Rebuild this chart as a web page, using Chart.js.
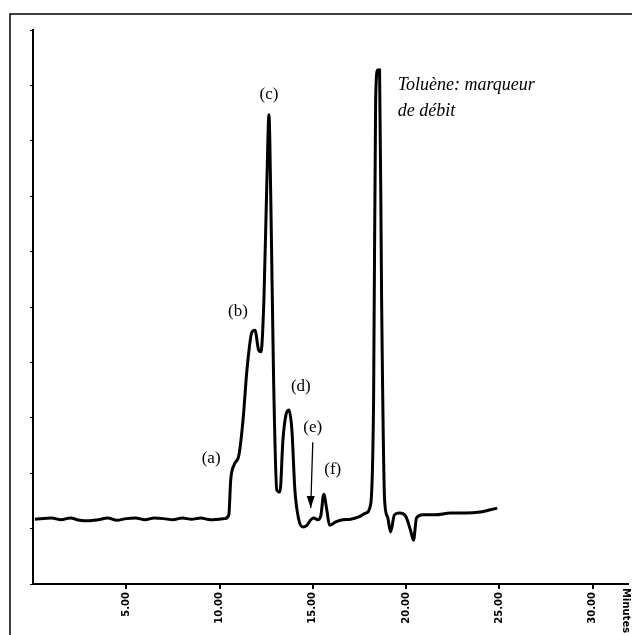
<!DOCTYPE html>
<html>
<head>
<meta charset="utf-8">
<script src="https://cdn.jsdelivr.net/npm/chart.js@4"></script>
<style>
  body { margin: 0; background: #fff; }
  .container { width: 632px; height: 635px; }
</style>
</head>
<body>
<div class="container"><canvas id="myChart"></canvas></div>
<script>
// retention time (minutes) and detector signal (arbitrary units, 0-100)
const times = [0.1, 1, 1.5, 2, 2.5, 3, 3.5, 4, 4.5, 5, 5.5, 6, 6.5, 7, 7.5, 8, 8.5, 9, 9.5, 10, 10.3,
  10.5, 10.6, 10.78, 11.04, 11.26, 11.47, 11.74, 11.9, 12.1, 12.22, 12.38, 12.54, 12.65, 12.75, 12.9,
  13.07, 13.24, 13.4, 13.56, 13.72, 13.88, 14.04, 14.25, 14.47, 14.68, 14.9, 15.05, 15.27, 15.43, 15.59,
  15.75, 15.9, 16.23, 16.6, 17.03, 17.46, 17.83, 18.1, 18.26, 18.37, 18.48, 18.58, 18.69, 18.85, 19.01,
  19.17, 19.38, 19.65, 19.97, 20.24, 20.4, 20.56, 20.88, 21.57, 22.37, 23.18, 23.98, 24.52, 24.89];
const signal = [11.7, 11.9, 11.6, 11.9, 11.5, 11.4, 11.6, 11.9, 11.5, 11.8, 11.9, 11.6, 11.9, 11.8, 11.6, 11.9, 11.7, 11.9, 11.6, 11.7, 11.8,
  12.5, 18.8, 21.5, 23.3, 29.6, 38.6, 45.5, 45.8, 42.2, 41.9, 51.3, 72.9, 84.7, 69.3, 36.8,
  17.0, 16.6, 26.0, 30.5, 31.4, 27.8, 17.0, 11.6, 10.3, 10.6, 11.6, 11.9, 11.6, 12.3, 16.2,
  13.4, 10.6, 11.2, 11.6, 11.7, 12.1, 12.8, 14.3, 33.2, 87.4, 92.8, 92.8, 51.3, 15.2, 12.1,
  9.4, 12.5, 12.8, 12.3, 9.7, 7.9, 11.9, 12.5, 12.5, 12.8, 12.8, 13.0, 13.4, 13.7];

// peak labels
const peakNames = ['(a)', '(b)', '(c)', '(d)', '(e)', '(f)'];
const peakLabelT = [9.55, 10.99, 12.65, 14.36, 15.0, 16.07];
const peakLabelV = [22.7, 49.1, 88.4, 35.6, 28.2, 20.6];

const markerLines = ['Toluène: marqueur', 'de débit'];
const xTicks = [5, 10, 15, 20, 25, 30];

const points = times.map((t, i) => ({ x: t, y: signal[i] }));

const annotate = {
  id: 'annotate',
  afterDraw(chart) {
    const { ctx, scales: { x, y } } = chart;
    ctx.save();
    ctx.fillStyle = '#000';
    ctx.strokeStyle = '#000';
    // outer frame
    ctx.lineWidth = 1.5;
    ctx.beginPath();
    ctx.moveTo(10, 635); ctx.lineTo(10, 14); ctx.lineTo(632, 14);
    ctx.stroke();

    ctx.font = '17px "Liberation Serif"';
    ctx.textAlign = 'center';
    ctx.textBaseline = 'middle';
    peakNames.forEach((n, i) => {
      ctx.fillText(n, x.getPixelForValue(peakLabelT[i]), y.getPixelForValue(peakLabelV[i]));
    });

    // arrow for (e)
    const x1 = x.getPixelForValue(15.0), y1 = y.getPixelForValue(25.6);
    const x2 = x.getPixelForValue(14.89), y2 = y.getPixelForValue(13.7);
    ctx.lineWidth = 1.3;
    ctx.beginPath(); ctx.moveTo(x1, y1); ctx.lineTo(x2, y2); ctx.stroke();
    ctx.beginPath();
    ctx.moveTo(x2, y2); ctx.lineTo(x2 - 4, y2 - 12); ctx.lineTo(x2 + 4, y2 - 12); ctx.closePath();
    ctx.fill();

    ctx.font = 'italic 18px "Liberation Serif"';
    ctx.textAlign = 'left';
    ctx.fillText(markerLines[0], x.getPixelForValue(19.55), y.getPixelForValue(90.1));
    ctx.fillText(markerLines[1], x.getPixelForValue(19.55), y.getPixelForValue(85.4));

    // axis unit, written vertically at the right
    ctx.font = 'bold 10px "DejaVu Sans"';
    ctx.translate(626, 588);
    ctx.rotate(Math.PI / 2);
    ctx.textAlign = 'left';
    ctx.fillText('Minutes', 0, 0);
    ctx.restore();
  }
};

new Chart(document.getElementById('myChart'), {
  type: 'line',
  data: {
    datasets: [{
      data: points,
      borderColor: '#000',
      borderWidth: 3,
      pointRadius: 0,
      cubicInterpolationMode: 'monotone',
      fill: false
    }]
  },
  options: {
    responsive: true,
    maintainAspectRatio: false,
    animation: false,
    layout: { padding: { left: 33, top: 30, right: 4, bottom: 0 } },
    plugins: { legend: { display: false }, tooltip: { enabled: false } },
    scales: {
      x: {
        type: 'linear',
        min: 0,
        max: 31.9,
        afterFit: s => { s.height = 51; },
        afterBuildTicks: s => { s.ticks = xTicks.map(v => ({ value: v })); },
        grid: { display: true, drawOnChartArea: false, tickLength: 5, color: '#000', lineWidth: 2 },
        border: { display: true, color: '#000', width: 2 },
        ticks: {
          color: '#000',
          minRotation: 90,
          maxRotation: 90,
          font: { family: 'DejaVu Sans', size: 10, weight: 'bold' },
          callback: v => v.toFixed(2)
        }
      },
      y: {
        min: 0,
        max: 100,
        afterFit: s => { s.width = 0; },
        grid: { display: true, drawOnChartArea: false, tickLength: 3, color: '#000', lineWidth: 1 },
        border: { display: true, color: '#000', width: 2 },
        ticks: { display: false, stepSize: 10 }
      }
    }
  },
  plugins: [annotate]
});
</script>
</body>
</html>
